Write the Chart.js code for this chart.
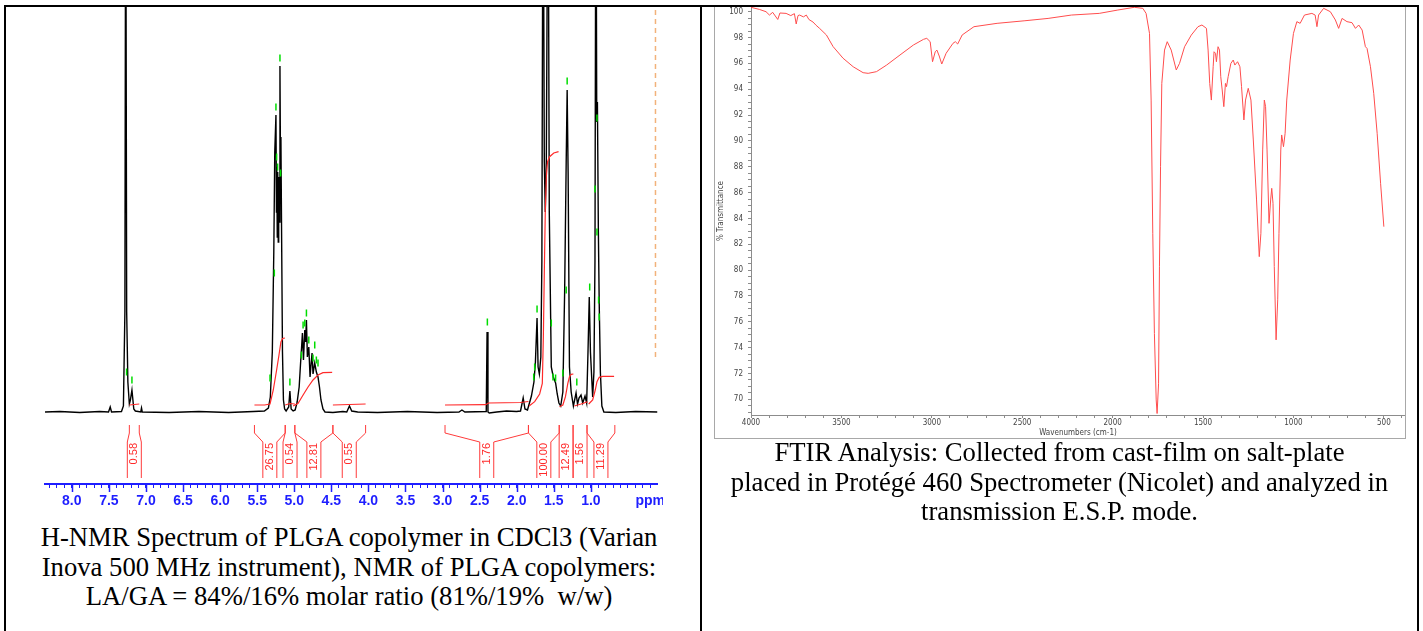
<!DOCTYPE html>
<html>
<head>
<meta charset="utf-8">
<script src="https://cdn.jsdelivr.net/npm/chart.js@4.4.1/dist/chart.umd.min.js"></script>
<style>
  html, body { margin: 0; padding: 0; background: #fff; width: 1423px; height: 631px; overflow: hidden; }
  .box { position: absolute; }
  .rule { position: absolute; background: #000; z-index: 5; }
  .cap { position: absolute; font-family: "Liberation Serif", "Times New Roman", serif; font-size: 26.67px;
         line-height: 29.7px; text-align: center; white-space: nowrap; color: #000; }
  #irFrame { position: absolute; left: 714px; top: 7px; width: 690px; height: 431px;
             border: 1px solid #a8a8a8; border-top: none; }
</style>
</head>
<body>
<div class="rule" style="left:4px;top:5px;width:1415px;height:2px"></div>
<div class="rule" style="left:4px;top:5px;width:2px;height:626px"></div>
<div class="rule" style="left:700px;top:5px;width:2px;height:626px"></div>
<div class="rule" style="left:1417px;top:5px;width:2px;height:626px"></div>

<div class="box" style="left:0;top:0;width:663px;height:520px"><canvas id="nmr" width="663" height="520" style="width:663px;height:520px"></canvas></div>
<div id="irFrame"></div>
<div class="box" style="left:716px;top:7px;width:689px;height:432px"><canvas id="ir" width="689" height="432" style="width:689px;height:432px"></canvas></div>

<div class="cap" style="left:30px;top:523px;width:638px">H-NMR Spectrum of PLGA copolymer in CDCl3 (Varian<br>Inova 500 MHz instrument), NMR of PLGA copolymers:<br>LA/GA = 84%/16% molar ratio (81%/19%&nbsp; w/w)</div>
<div class="cap" style="left:702px;top:438px;width:715px">FTIR Analysis: Collected from cast-film on salt-plate<br>placed in Protégé 460 Spectrometer (Nicolet) and analyzed in<br>transmission E.S.P. mode.</div>

<script>
// ---- H-NMR spectrum (ppm, intensity in arbitrary units)
const nmrPpm = [8.361, 8.161, 7.893, 7.625, 7.505, 7.482, 7.464, 7.330, 7.304, 7.284, 7.273, 7.260, 7.244, 7.224,
  7.210, 7.189, 7.164, 7.143, 7.070, 7.060, 7.050, 6.688, 6.286, 5.885, 5.550, 5.403, 5.349, 5.323, 5.296, 5.276,
  5.263, 5.247, 5.240, 5.236, 5.229, 5.223, 5.216, 5.210, 5.203, 5.193, 5.186, 5.180, 5.173, 5.159, 5.146, 5.130,
  5.110, 5.075, 5.059, 5.042, 5.015, 4.988, 4.961, 4.934, 4.914, 4.901, 4.890, 4.876, 4.858, 4.847, 4.836, 4.823,
  4.804, 4.787, 4.773, 4.760, 4.747, 4.724, 4.702, 4.680, 4.660, 4.640, 4.613, 4.586, 4.479, 4.345, 4.292, 4.256,
  4.225, 4.145, 3.877, 3.475, 3.074, 2.779, 2.739, 2.699, 2.411, 2.400, 2.388, 2.371, 2.270, 2.137, 2.003, 1.949,
  1.913, 1.889, 1.855, 1.802, 1.768, 1.748, 1.726, 1.712, 1.695, 1.675, 1.661, 1.645, 1.628, 1.615, 1.601, 1.578,
  1.561, 1.534, 1.507, 1.476, 1.454, 1.431, 1.407, 1.378, 1.354, 1.333, 1.320, 1.307, 1.289, 1.266, 1.236, 1.200,
  1.180, 1.160, 1.133, 1.110, 1.079, 1.057, 1.039, 1.022, 1.006, 0.976, 0.959, 0.945, 0.932, 0.921, 0.912, 0.899,
  0.888, 0.872, 0.852, 0.825, 0.664, 0.396, 0.102];
const nmrIntensity = [0, 0.5, -0.5, 0.5, 0, 5, 0, 0.5, 6, 100, 600, 100, 30, 8,
  12, 22, 3, 1, 0, 4, 0, -0.5, 0.5, -0.5, 0.5, 1, 4, 15, 60, 160,
  260, 297, 200, 245, 175, 240, 170, 235, 190, 346, 250, 275, 200, 60, 12, 3,
  1, 5, 21, 3, 1, 2, 10, 25, 50, 65, 79, 52, 82, 70, 92, 55,
  65, 35, 48, 59, 38, 49, 40, 35, 25, 12, 3, 0, -0.5, 0.5, 0, 6,
  1, 0, -0.5, 0.5, -0.5, 0, 2, 0, 0.5, 80, 0, -1, 0, 1, 0.5, 1,
  14, 3, 2, 16, 30, 50, 94, 45, 38, 55, 150, 600, 250, 200, 250, 600,
  200, 45, 35, 29, 18, 9, 6, 20, 120, 250, 322, 240, 45, 20, 6, 19,
  8, 14, 17, 9, 16, 9, 60, 115, 60, 15, 40, 150, 600, 290, 310, 180,
  110, 40, 6, 0, -0.5, 0.5, 0];

// integral curves, one list per integrated region
const integralPpm = [
  [7.224, 7.157, 7.090],
  [5.537, 5.400, 5.327, 5.283, 5.238, 5.206, 5.180, 5.158, 5.126],
  [5.122, 5.060, 4.992],
  [5.015, 4.948, 4.881, 4.814, 4.747, 4.680, 4.613, 4.489],
  [4.479, 4.256, 4.038],
  [2.967, 2.420, 2.380, 1.950, 1.842],
  [1.833, 1.758, 1.691, 1.655, 1.641, 1.628, 1.615, 1.601, 1.585, 1.557, 1.500, 1.436],
  [1.423, 1.378, 1.343, 1.311, 1.289, 1.266, 1.236],
  [1.222, 1.133, 1.043],
  [1.030, 0.976, 0.941, 0.918, 0.888, 0.842, 0.687]
];
const integralHeight = [
  [7, 7.5, 8],
  [7, 7, 8, 22, 42, 57, 70, 73.5, 74],
  [7, 8.5, 8],
  [6, 8.7, 17, 25, 32, 37, 39.3, 39.7],
  [7, 7.5, 8],
  [7, 7.3, 9, 9.5, 10.5],
  [6, 10.3, 18, 28.7, 75, 140, 200, 235, 250, 255.3, 259, 260.3],
  [5.3, 7, 15.3, 28.7, 35.3, 37.7, 38],
  [6, 8, 10.3],
  [8, 12, 22, 30.3, 34.7, 35.7, 35.7]
];
// integration ranges and their printed values
const rangeFrom = [7.224, 5.537, 5.122, 4.992, 4.479, 2.967, 1.842, 1.427, 1.240, 1.052];
const rangeTo   = [7.090, 5.122, 4.992, 4.479, 4.038, 1.842, 1.427, 1.240, 1.052, 0.677];
const rangeValue = ['0.58', '26.75', '0.54', '12.81', '0.55', '1.76', '100.00', '12.49', '1.56', '11.29'];

// peak-pick marks
const markPpm = [7.261, 7.189, 5.193, 5.247, 5.238, 5.225, 5.185, 5.269, 5.327, 5.059, 4.836, 4.858, 4.881, 4.804,
  4.904, 4.724, 4.747, 4.702, 4.680, 2.396, 1.726, 1.758, 1.771, 1.534, 1.511, 1.476, 1.320, 1.333, 1.378, 1.190,
  1.016, 0.918, 0.945, 0.918, 0.896, 0.888];
const markHeight = [40, 32, 354, 305, 255, 245, 239, 139, 34, 30, 99, 89, 87, 72,
  57, 67, 54, 52, 49, 90, 103, 45, 35, 89, 35, 34, 331, 122, 39, 30,
  125, 294, 223, 180, 112, 95];

const cursorPpm = [0.129, 0.129];
const cursorHeight = [55, 405];

const ppmTickValues = [8.0, 7.5, 7.0, 6.5, 6.0, 5.5, 5.0, 4.5, 4.0, 3.5, 3.0, 2.5, 2.0, 1.5, 1.0, 0.2];
const ppmTickLabels = ['8.0', '7.5', '7.0', '6.5', '6.0', '5.5', '5.0', '4.5', '4.0', '3.5', '3.0', '2.5', '2.0', '1.5', '1.0', 'ppm'];

// ---- FTIR spectrum
const irWavenumber = [4000, 3954, 3917, 3898, 3880, 3852, 3840, 3806, 3780, 3760, 3750, 3740, 3731, 3710, 3694, 3680,
  3657, 3640, 3620, 3583, 3546, 3491, 3435, 3380, 3352, 3306, 3250, 3176, 3102, 3046, 3028, 3009, 2996, 2981, 2972,
  2959, 2945, 2921, 2883, 2870, 2857, 2832, 2767, 2639, 2485, 2357, 2228, 2074, 1971, 1880, 1833, 1815, 1796, 1787,
  1778, 1769, 1759, 1754, 1746, 1741, 1735, 1728, 1713, 1698, 1676, 1648, 1630, 1602, 1565, 1528, 1506, 1481, 1472,
  1463, 1454, 1444, 1439, 1431, 1426, 1417, 1409, 1402, 1394, 1385, 1376, 1370, 1361, 1346, 1333, 1324, 1309, 1296,
  1287, 1274, 1265, 1250, 1235, 1222, 1204, 1189, 1180, 1170, 1161, 1154, 1146, 1135, 1126, 1120, 1113, 1106, 1096,
  1087, 1080, 1070, 1065, 1055, 1046, 1037, 1018, 1000, 981, 963, 939, 898, 880, 870, 861, 833, 796, 768, 750, 731,
  704, 676, 657, 639, 620, 602, 593, 574, 556, 537, 518, 500];
const irTransmittance = [100.34, 100.18, 100.0, 99.74, 99.95, 99.4, 99.9, 99.87, 99.7, 99.85, 99.05, 99.7, 99.74, 99.6, 99.74, 99.4,
  99.2, 98.95, 98.7, 98.2, 97.3, 96.4, 95.74, 95.28, 95.23, 95.36, 95.87, 96.65, 97.42, 97.86, 97.94, 97.68, 96.13, 96.9, 97.03,
  96.57, 95.95, 96.78, 97.55, 97.68, 97.5, 98.2, 98.84, 99.1, 99.3, 99.48, 99.74, 99.87, 100.13, 100.34, 100.26, 99.87, 98.32, 93.16,
  82.85, 75.1, 69.95, 68.9, 71.2, 80.3, 88.0, 94.45, 97.03, 97.68, 97.03, 95.49, 96.0, 97.29, 98.19, 98.84, 98.97, 98.71, 97.03,
  94.45, 93.16, 95.74, 96.9, 96.78, 96.13, 97.29, 97.03, 94.97, 93.94, 92.65, 94.45, 94.2, 94.97, 96.0, 96.26, 95.87, 96.13, 95.74,
  94.2, 91.62, 93.16, 94.07, 93.16, 90.07, 85.43, 81.04, 82.85, 89.3, 93.16, 92.65, 89.3, 83.62, 85.43, 86.33, 85.17, 80.27, 74.6,
  77.7, 82.85, 89.3, 90.46, 89.55, 90.59, 93.16, 96.26, 98.32, 99.23, 99.1, 99.74, 99.87, 99.74, 98.84, 99.74, 100.26, 100.0, 99.36, 98.71, 99.48,
  99.23, 99.15, 98.71, 98.97, 98.58, 97.29, 97.16, 95.74, 93.68, 90.59, 86.72, 83.36];

const irXTickValues = [4000, 3500, 3000, 2500, 2000, 1500, 1000, 500];
const irXTickLabels = ['4000', '3500', '3000', '2500', '2000', '1500', '1000', '500'];
const irYTickValues = [100, 98, 96, 94, 92, 90, 88, 86, 84, 82, 80, 78, 76, 74, 72, 70];
const irYTickLabels = ['100', '98', '96', '94', '92', '90', '88', '86', '84', '82', '80', '78', '76', '74', '72', '70'];

const BLUE = '#1e1eff';
const RED = '#ff2a2a';
const pts = (xs, ys) => xs.map((x, i) => ({ x, y: ys[i] }));

function labelFrom(values, labels, v) {
  const i = values.findIndex(t => Math.abs(t - v) < 1e-6);
  return i < 0 ? '' : labels[i];
}

// long ticks under the ppm axis at each labelled value
const majorTicks = {
  id: 'majorTicks',
  afterDraw(chart) {
    const { ctx, chartArea, scales: { x } } = chart;
    ctx.save();
    ctx.strokeStyle = BLUE;
    ctx.lineWidth = 1.5;
    ppmTickValues.forEach((v, i) => {
      if (ppmTickLabels[i] === 'ppm') return;
      const px = Math.round(x.getPixelForValue(v)) + 0.5;
      ctx.beginPath();
      ctx.moveTo(px, chartArea.bottom);
      ctx.lineTo(px, chartArea.bottom + 8);
      ctx.stroke();
    });
    ctx.restore();
  }
};

// integration brackets and values below the baseline
const brackets = {
  id: 'brackets',
  afterDatasetsDraw(chart) {
    const { ctx, scales: { x, y } } = chart;
    const base = y.getPixelForValue(0);
    const top = base + 13, k1 = base + 21, k2 = base + 30, bottom = base + 66;
    ctx.save();
    ctx.strokeStyle = '#ff3b3b';
    ctx.lineWidth = 1;
    ctx.fillStyle = RED;
    ctx.font = '11px "Liberation Sans", Arial, sans-serif';
    rangeFrom.forEach((from, i) => {
      const xl = x.getPixelForValue(from);
      const xr = x.getPixelForValue(rangeTo[i]);
      const mid = (xl + xr) / 2;
      ctx.beginPath();
      ctx.moveTo(xl, top); ctx.lineTo(xl, k1); ctx.lineTo(mid - 7, k2); ctx.lineTo(mid - 7, bottom);
      ctx.moveTo(xr, top); ctx.lineTo(xr, k1); ctx.lineTo(mid + 7, k2); ctx.lineTo(mid + 7, bottom);
      ctx.stroke();
      ctx.save();
      ctx.translate(mid, base + 31);
      ctx.rotate(-Math.PI / 2);
      ctx.textAlign = 'right';
      ctx.textBaseline = 'middle';
      ctx.fillText(rangeValue[i], 0, 0);
      ctx.restore();
    });
    ctx.restore();
  }
};

const nmrSets = [
  { data: pts(nmrPpm, nmrIntensity), borderColor: '#000', borderWidth: 1.4, pointRadius: 0, order: 3 },
  { data: pts(markPpm, markHeight), showLine: false, pointStyle: 'line', rotation: 90, pointRadius: 3.5,
    borderColor: '#00dd00', borderWidth: 1.5, order: 2 },
  { data: pts(cursorPpm, cursorHeight), borderColor: '#f2b27a', borderWidth: 1.5, borderDash: [5, 4], pointRadius: 0, order: 4 }
];
integralPpm.forEach((p, i) => {
  nmrSets.push({ data: pts(p, integralHeight[i]), borderColor: RED, borderWidth: 1.2, pointRadius: 0, order: 1 });
});

new Chart(document.getElementById('nmr'), {
  type: 'line',
  data: { datasets: nmrSets },
  options: {
    responsive: false,
    animation: false,
    layout: { padding: { left: 45, top: 7, right: 1, bottom: 0 } },
    plugins: { legend: { display: false }, tooltip: { enabled: false } },
    scales: {
      x: {
        type: 'linear', reverse: true, min: 0.1017, max: 8.3614,
        afterBuildTicks: s => {
          const t = [];
          for (let k = 83; k >= 2; k--) t.push({ value: k / 10 });
          s.ticks = t;
        },
        afterFit: s => { s.height = 36; s.paddingLeft = 0; s.paddingRight = 0; },
        border: { color: BLUE, width: 2 },
        grid: { drawOnChartArea: false, tickLength: 4, tickColor: BLUE, tickWidth: 1 },
        ticks: {
          autoSkip: false, maxRotation: 0, padding: 5, color: BLUE,
          font: { family: '"Liberation Sans", Arial, sans-serif', size: 14, weight: 'bold' },
          callback: v => labelFrom(ppmTickValues, ppmTickLabels, v)
        }
      },
      y: { display: false, min: -72, max: 405 }
    }
  },
  plugins: [brackets, majorTicks]
});

const smallFont = { family: '"Liberation Sans Narrow", "DejaVu Sans Condensed", Arial, sans-serif', size: 8 };

new Chart(document.getElementById('ir'), {
  type: 'line',
  data: { datasets: [{ data: pts(irWavenumber, irTransmittance), borderColor: '#ff4d4d', borderWidth: 1, pointRadius: 0 }] },
  options: {
    responsive: false,
    animation: false,
    layout: { padding: 0 },
    plugins: { legend: { display: false }, tooltip: { enabled: false } },
    scales: {
      x: {
        type: 'linear', reverse: true, min: 383, max: 4000,
        afterBuildTicks: s => {
          const t = [];
          for (let v = 4000; v >= 400; v -= 100) t.push({ value: v });
          s.ticks = t;
        },
        afterFit: s => { s.height = 24; s.paddingLeft = 0; s.paddingRight = 0; },
        border: { color: '#8c8c8c', width: 1 },
        grid: { drawOnChartArea: false, tickLength: 3, tickColor: '#8c8c8c' },
        ticks: { autoSkip: false, maxRotation: 0, padding: 0, color: '#444', font: smallFont,
                 callback: v => labelFrom(irXTickValues, irXTickLabels, v) },
        title: { display: true, text: 'Wavenumbers (cm-1)', color: '#444', font: smallFont, padding: { top: 0, bottom: 1.5 } }
      },
      y: {
        min: 68.785, max: 100.364,
        afterBuildTicks: s => {
          const t = [];
          for (let k = 200; k >= 138; k--) t.push({ value: k / 2 });
          s.ticks = t;
        },
        afterFit: s => { s.width = 35; s.paddingTop = 0; s.paddingBottom = 0; },
        border: { color: '#8c8c8c', width: 1 },
        grid: { drawOnChartArea: false, tickLength: 3, tickColor: '#8c8c8c' },
        ticks: { autoSkip: false, padding: 5, color: '#444', font: smallFont,
                 callback: v => labelFrom(irYTickValues, irYTickLabels, v) },
        title: { display: true, text: '% Transmittance', color: '#444', font: smallFont, padding: { top: 0, bottom: 0 } }
      }
    }
  }
});
</script>
</body>
</html>
